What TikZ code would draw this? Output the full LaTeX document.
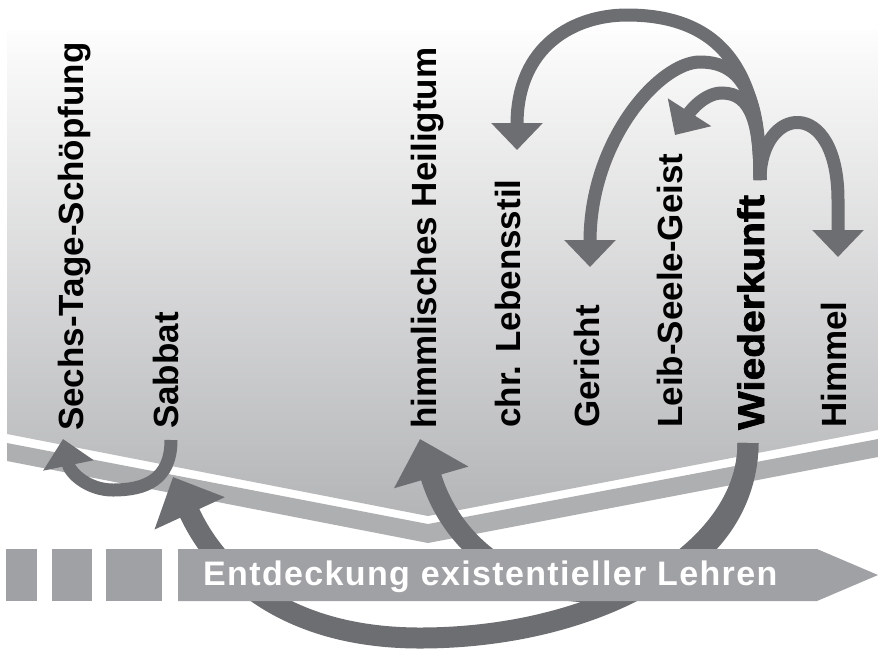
\documentclass[tikz,border=0pt]{standalone}
\usepackage{fontspec}
\setmainfont{Liberation Sans}
\newfontfamily\heavyfont[BoldFeatures={FakeBold=2,FakeStretch=1.1}]{Liberation Sans}
\newfontfamily\bannerfont[LetterSpace=4]{Liberation Sans}
\usetikzlibrary{arrows.meta}
\definecolor{arrowgray}{HTML}{6D6E71}
\definecolor{bannergray}{HTML}{A0A1A4}
\definecolor{bandgray}{HTML}{AEAFB1}
\definecolor{skytop}{HTML}{FDFDFD}
\definecolor{skymid}{HTML}{E8E9E9}
\definecolor{skybottom}{HTML}{B4B5B7}

\tikzset{
  lehre/.style={anchor=base west, rotate=90, inner sep=0pt, font=\fontsize{35}{35}\selectfont\bfseries},
  smallarc/.style={draw=arrowgray, line width=13pt, -{Triangle[length=27pt,width=50pt]}},
  bigarc/.style={draw=arrowgray, line width=21pt, -{Triangle[length=40pt,width=75pt]}}
}

\begin{document}
\begin{tikzpicture}[x=1pt, y=-1pt]
  \useasboundingbox (0,0) rectangle (878,649);
  % background
  \shade[top color=skytop, middle color=skymid, bottom color=skybottom]
    (7,30) -- (878,30) -- (878,430) -- (428,516) -- (7,434) -- cycle;
  \fill[bandgray] (7,443) -- (428,524) -- (878,439) -- (878,457) -- (428,543) -- (7,461) -- cycle;

  % labels
  \node[lehre] (sechs) at (83,431) {Sechs-Tage-Schöpfung};
  \node[lehre] (sabbat) at (178,429) {Sabbat};
  \node[lehre] (heiligtum) at (436,429) {himmlisches Heiligtum};
  \node[lehre] (lebensstil) at (520,428) {chr. Lebensstil};
  \node[lehre] (gericht) at (599,428) {Gericht};
  \node[lehre] (leib) at (682,428) {Leib-Seele-Geist};
  \node[lehre, font=\fontsize{37}{37}\selectfont\heavyfont\bfseries] (wiederkunft) at (764,430) {Wiederkunft};
  \node[lehre] (himmel) at (846,428) {Himmel};

  % ends of the arrows
  \coordinate (wk top) at (760,180);
  \coordinate (wk bottom) at (748,443);
  \coordinate (sb bottom) at (171,440);
  \coordinate (himmel tip) at (838,257);
  \coordinate (leib tip) at (675,135);
  \coordinate (gericht tip) at (590,267);
  \coordinate (lebensstil tip) at (517,150);
  \coordinate (sechs tip) at (63,439);
  \coordinate (heiligtum tip) at (420,439);
  \coordinate (sabbat tip) at (173,477);

  % upper arrows
  \draw[smallarc] (wk top) .. controls (760,105) and (838,95) .. (838,200) -- (himmel tip);
  \draw[smallarc] (wk top) .. controls (760,125) and (752,93) .. (722,93)
    .. controls (705,93) and (691,110) .. (leib tip);
  \draw[smallarc] (wk top) .. controls (760,100) and (745,62) .. (700,62)
    .. controls (660,62) and (590,140) .. (gericht tip);
  \draw[smallarc] (wk top) .. controls (760,90) and (735,15) .. (627,15)
    .. controls (575,15) and (517,45) .. (lebensstil tip);
  \draw[smallarc] (sb bottom) .. controls (171,480) and (145,490) .. (113,490)
    .. controls (88,490) and (70,473) .. (sechs tip);

  % lower arrows
  \draw[bigarc] (wk bottom) .. controls (748,525) and (679,592) .. (594,592)
    .. controls (504,592) and (448,535) .. (heiligtum tip);
  \draw[bigarc] (wk bottom) .. controls (748,551) and (601,638) .. (420,638)
    .. controls (290,638) and (219,577) .. (sabbat tip);

  % banner
  \foreach \a/\b in {6/37, 52/92, 106/162}
    \fill[bannergray] (\a,549) rectangle (\b,601);
  \fill[bannergray] (178,549) -- (817,549) -- (878,575) -- (817,601) -- (178,601) -- cycle;
  \node[anchor=base west, inner sep=0pt, text=white, font=\fontsize{34}{34}\selectfont\bannerfont\bfseries] (lehren) at (203,585) {Entdeckung existentieller Lehren};
\end{tikzpicture}
\end{document}
